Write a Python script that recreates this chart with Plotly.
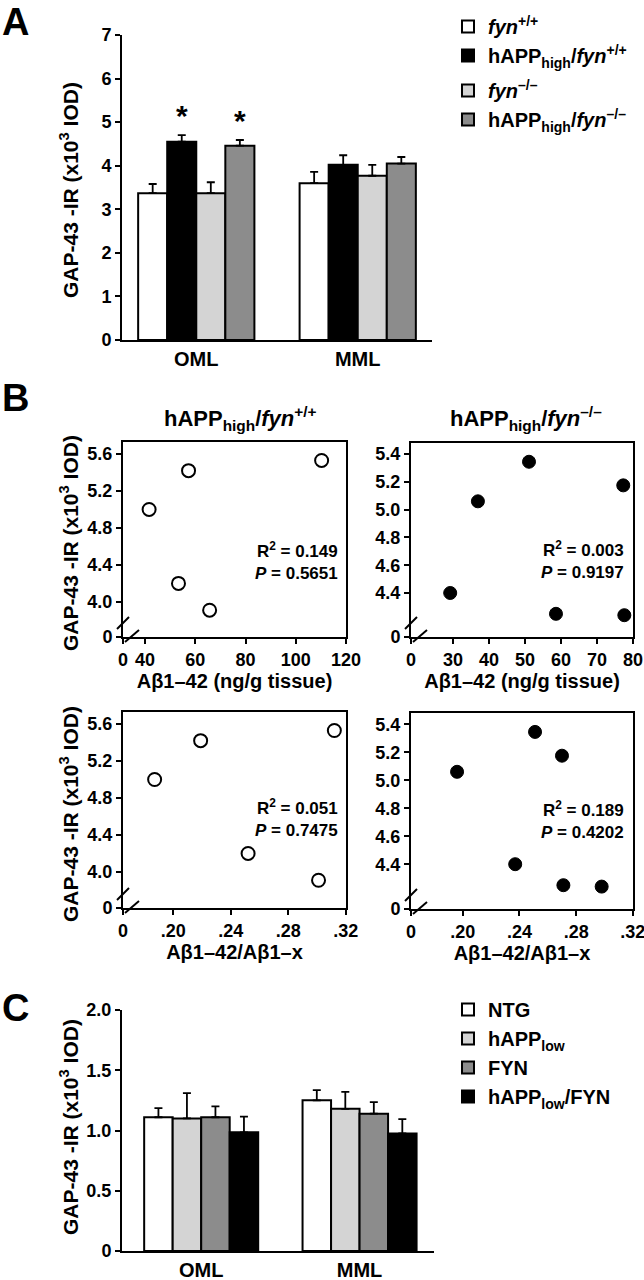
import plotly.graph_objects as go

W, H = 644, 1280
FONT = "Liberation Sans, Arial, Helvetica, sans-serif"

# ---- panel A: GAP-43 IR in hAPP_high x fyn mice ----
layers = ["OML", "MML"]
fyn_wt = [3.37, 3.60]
fyn_wt_err = [0.21, 0.26]
happ_fyn_wt = [4.55, 4.02]
happ_fyn_wt_err = [0.15, 0.22]
fyn_ko = [3.37, 3.77]
fyn_ko_err = [0.25, 0.25]
happ_fyn_ko = [4.46, 4.05]
happ_fyn_ko_err = [0.13, 0.15]

# ---- panel B: GAP-43 IR vs Abeta levels, per mouse ----
wt_gap = [5.00, 5.42, 4.20, 3.91, 5.53]
wt_ab42 = [41.6, 57.3, 53.3, 65.7, 110.3]
wt_ratio = [0.187, 0.219, 0.252, 0.301, 0.312]
ko_gap = [4.40, 5.06, 5.345, 5.175, 4.25, 4.24]
ko_ab42 = [29.2, 36.9, 51.1, 77.3, 58.6, 77.6]
ko_ratio = [0.237, 0.196, 0.251, 0.270, 0.271, 0.298]
stats_text = [("0.149", "0.5651"), ("0.003", "0.9197"), ("0.051", "0.7475"), ("0.189", "0.4202")]

# ---- panel C: hAPP_low x FYN mice ----
ntg = [1.11, 1.25]
ntg_err = [0.075, 0.085]
happ_low = [1.10, 1.18]
happ_low_err = [0.21, 0.14]
fyn_tg = [1.11, 1.14]
fyn_tg_err = [0.09, 0.095]
happ_low_fyn = [0.985, 0.975]
happ_low_fyn_err = [0.13, 0.12]

BARGAP = 0.28
A_DOM = (122, 432)
A_RANGE = (-0.46, 1.46)


def xdom(a, b):
    return [a / W, b / W]


def ydom(top, bottom):
    return [1 - bottom / H, 1 - top / H]


def px(x, y):
    return x / W, 1 - y / H


BAR_LINE = dict(color="black", width=2)


def bar(name, y, err, color, xa, ya, legend, group):
    return go.Bar(
        name=name, x=layers, y=y, xaxis=xa, yaxis=ya,
        marker=dict(color=color, line=BAR_LINE),
        error_y=dict(type="data", array=err, arrayminus=[0] * len(err), symmetric=False,
                     color="black", thickness=1.8, width=4),
        legend=legend, legendgroup=group,
    )


fig = go.Figure()
fig.add_trace(bar("<i>fyn</i><sup>+/+</sup>", fyn_wt, fyn_wt_err, "white", "x", "y", "legend", "wt"))
fig.add_trace(bar("hAPP<sub>high</sub>/<i>fyn</i><sup>+/+</sup>", happ_fyn_wt, happ_fyn_wt_err, "black",
                  "x", "y", "legend", "wt"))
fig.add_trace(bar("<i>fyn</i><sup>–/–</sup>", fyn_ko, fyn_ko_err, "#d4d4d4", "x", "y", "legend", "ko"))
fig.add_trace(bar("hAPP<sub>high</sub>/<i>fyn</i><sup>–/–</sup>", happ_fyn_ko, happ_fyn_ko_err, "#8c8c8c",
                  "x", "y", "legend", "ko"))

open_mk = dict(size=13, color="white", line=dict(color="black", width=2))
fill_mk = dict(size=13, color="black", line=dict(color="black", width=1))
fig.add_trace(go.Scatter(x=wt_ab42, y=wt_gap, mode="markers", marker=open_mk, xaxis="x2", yaxis="y2", showlegend=False))
fig.add_trace(go.Scatter(x=ko_ab42, y=ko_gap, mode="markers", marker=fill_mk, xaxis="x3", yaxis="y3", showlegend=False))
fig.add_trace(go.Scatter(x=wt_ratio, y=wt_gap, mode="markers", marker=open_mk, xaxis="x4", yaxis="y4", showlegend=False))
fig.add_trace(go.Scatter(x=ko_ratio, y=ko_gap, mode="markers", marker=fill_mk, xaxis="x5", yaxis="y5", showlegend=False))

fig.add_trace(bar("NTG", ntg, ntg_err, "white", "x6", "y6", "legend2", "c"))
fig.add_trace(bar("hAPP<sub>low</sub>", happ_low, happ_low_err, "#d4d4d4", "x6", "y6", "legend2", "c"))
fig.add_trace(bar("FYN", fyn_tg, fyn_tg_err, "#8c8c8c", "x6", "y6", "legend2", "c"))
fig.add_trace(bar("hAPP<sub>low</sub>/FYN", happ_low_fyn, happ_low_fyn_err, "black", "x6", "y6", "legend2", "c"))

AX = dict(showline=True, linecolor="black", linewidth=2, showgrid=False, zeroline=False,
          tickfont=dict(size=18, family=FONT, color="black", weight="bold"))
SC = dict(AX, mirror=True, ticks="outside", ticklen=5, tickwidth=2, tickcolor="black",
          ticklabeloverflow="allow")

y_title = "GAP-43 -IR (x10<sup>3</sup> IOD)"
x_title_font = dict(size=20, family=FONT, color="black", weight="bold")
cat_font = dict(size=20, family=FONT, color="black", weight="bold")

fig.update_layout(
    xaxis=dict(AX, domain=xdom(*A_DOM), range=list(A_RANGE), ticks="", tickfont=cat_font),
    yaxis=dict(AX, domain=ydom(35, 340), range=[0, 7], dtick=1, ticks="outside", ticklen=5,
               tickwidth=2, tickcolor="black"),
    xaxis2=dict(SC, domain=xdom(123, 346), range=[31.2, 120.01], anchor="y2",
                tickvals=[31.2, 40, 60, 80, 100, 120], ticktext=["0", "40", "60", "80", "100", "120"],
                title=dict(text="Aβ1–42 (ng/g tissue)", font=x_title_font, standoff=3)),
    yaxis2=dict(SC, domain=ydom(442, 637), range=[3.62, 5.73], anchor="x2",
                tickvals=[3.62, 4.0, 4.4, 4.8, 5.2, 5.6], ticktext=["0", "4.0", "4.4", "4.8", "5.2", "5.6"]),
    xaxis3=dict(SC, domain=xdom(411, 633), range=[18.3, 80.01], anchor="y3",
                tickvals=[18.3, 30, 40, 50, 60, 70, 80], ticktext=["0", "30", "40", "50", "60", "70", "80"],
                title=dict(text="Aβ1–42 (ng/g tissue)", font=x_title_font, standoff=3)),
    yaxis3=dict(SC, domain=ydom(443, 637), range=[4.083, 5.48], anchor="x3",
                tickvals=[4.083, 4.4, 4.6, 4.8, 5.0, 5.2, 5.4], ticktext=["0", "4.4", "4.6", "4.8", "5.0", "5.2", "5.4"]),
    xaxis4=dict(SC, domain=xdom(123, 346), range=[0.165, 0.3201], anchor="y4",
                tickvals=[0.165, 0.20, 0.24, 0.28, 0.32], ticktext=["0", ".20", ".24", ".28", ".32"],
                title=dict(text="Aβ1–42/Aβ1–x", font=x_title_font, standoff=3)),
    yaxis4=dict(SC, domain=ydom(712, 908), range=[3.61, 5.73], anchor="x4",
                tickvals=[3.61, 4.0, 4.4, 4.8, 5.2, 5.6], ticktext=["0", "4.0", "4.4", "4.8", "5.2", "5.6"]),
    xaxis5=dict(SC, domain=xdom(411, 633), range=[0.1635, 0.3201], anchor="y5",
                tickvals=[0.1635, 0.20, 0.24, 0.28, 0.32], ticktext=["0", ".20", ".24", ".28", ".32"],
                title=dict(text="Aβ1–42/Aβ1–x", font=x_title_font, standoff=3)),
    yaxis5=dict(SC, domain=ydom(713, 909), range=[4.08, 5.48], anchor="x5",
                tickvals=[4.08, 4.4, 4.6, 4.8, 5.0, 5.2, 5.4], ticktext=["0", "4.4", "4.6", "4.8", "5.0", "5.2", "5.4"]),
    xaxis6=dict(AX, domain=xdom(122, 434), range=[-0.5, 1.47], ticks="", anchor="y6", tickfont=cat_font),
    yaxis6=dict(AX, domain=ydom(1010, 1251), range=[0, 2], anchor="x6", ticks="outside", ticklen=5,
                tickwidth=2, tickcolor="black",
                tickvals=[0, 0.5, 1.0, 1.5, 2.0], ticktext=["0", "0.5", "1.0", "1.5", "2.0"]),
    barmode="group", bargap=BARGAP, bargroupgap=0,
    legend=dict(x=448 / W, y=1 - 7 / H, xanchor="left", yanchor="top", traceorder="grouped",
                tracegroupgap=6, bgcolor="rgba(0,0,0,0)",
                font=dict(size=20, family=FONT, color="black", weight="bold")),
    legend2=dict(x=448 / W, y=1 - 990 / H, xanchor="left", yanchor="top", traceorder="normal",
                 bgcolor="rgba(0,0,0,0)",
                 font=dict(size=20, family=FONT, color="black", weight="bold")),
    width=W, height=H, margin=dict(l=0, r=0, t=0, b=0, autoexpand=False),
    paper_bgcolor="white", plot_bgcolor="white",
    font=dict(family=FONT, color="black", weight="bold"),
)

ann = []
for letter, (x, y) in zip("ABC", [(15, 22), (15, 398), (15, 1008)]):
    ax_, ay_ = px(x, y)
    ann.append(dict(x=ax_, y=ay_, text=letter, font=dict(size=38)))

for (x, y) in [(69, 190), (69, 543), (69, 814), (69, 1127)]:
    ax_, ay_ = px(x, y)
    ann.append(dict(x=ax_, y=ay_, text=y_title, textangle=-90, font=dict(size=21)))

titles = ["hAPP<sub>high</sub>/<i>fyn</i><sup>+/+</sup>", "hAPP<sub>high</sub>/<i>fyn</i><sup>–/–</sup>"]
for t, x in zip(titles, [240, 526]):
    ax_, ay_ = px(x, 418)
    ann.append(dict(x=ax_, y=ay_, text=t, font=dict(size=22)))

for (r2, p), (x, y) in zip(stats_text, [(340, 561), (626, 560), (340, 818), (626, 820)]):
    ax_, ay_ = px(x, y)
    ann.append(dict(x=ax_, y=ay_, xanchor="right", align="right",
                    text=f"R<sup>2</sup> = {r2}<br><i>P</i> = {p}", font=dict(size=17)))

for a in ann:
    a.update(xref="paper", yref="paper", showarrow=False, yanchor="middle")
    a.setdefault("xanchor", "center")
    a["font"].update(family=FONT, color="black", weight="bold")

# significance stars above the hAPP_high bars in OML (trace slots 1 and 3 of 4)
cat_px = (A_DOM[1] - A_DOM[0]) / (A_RANGE[1] - A_RANGE[0])
bar_px = cat_px * (1 - BARGAP) / 4
for slot, vals, errs in [(1, happ_fyn_wt, happ_fyn_wt_err), (3, happ_fyn_ko, happ_fyn_ko_err)]:
    ann.append(dict(x=layers[0], y=vals[0] + errs[0], xref="x", yref="y", text="*", showarrow=False,
                    xanchor="center", yanchor="middle", xshift=(slot - 1.5) * bar_px, yshift=20,
                    font=dict(size=30, family=FONT, color="black", weight="bold")))
fig.update_layout(annotations=ann)

# axis break marks on the scatter panels
shapes = []
for L, B in [(123, 637), (411, 637), (123, 908), (411, 909)]:
    for (x0, y0, x1, y1) in [(L - 6, B - 8, L + 6, B - 20), (L + 2, B + 5, L + 16, B - 7)]:
        a0, b0 = px(x0, y0)
        a1, b1 = px(x1, y1)
        shapes.append(dict(type="line", xref="paper", yref="paper", x0=a0, y0=b0, x1=a1, y1=b1,
                           line=dict(color="black", width=2)))
fig.update_layout(shapes=shapes)

# the page's default margin and scrollbars would offset and shrink the fixed-size figure
page_fix = ("document.documentElement.style.overflow='hidden';"
            "document.body.style.overflow='hidden';document.body.style.margin='0';")
fig.write_html("out.html", config={"displayModeBar": False}, post_script=page_fix)
